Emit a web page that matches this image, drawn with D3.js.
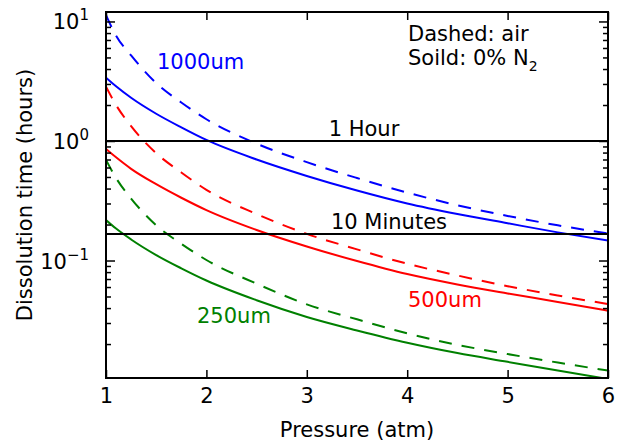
<!DOCTYPE html>
<html><head><meta charset="utf-8">
<script src="https://cdn.jsdelivr.net/npm/d3@7"></script>
<style>body{margin:0;background:#fff}svg{display:block;font-family:"DejaVu Sans",sans-serif}</style>
</head><body><svg id="c" width="624" height="443"></svg>
<script>
const pressure = [1, 1.1, 1.25, 1.5, 1.75, 2, 2.5, 3, 3.5, 4, 4.5, 5, 5.5, 6];
const solid1000 = [3.39, 2.87, 2.30, 1.69, 1.30, 1.02, 0.70, 0.51, 0.385, 0.30, 0.245, 0.205, 0.172, 0.147];
const dashed1000 = [11.3, 7.6, 5.2, 3.05, 2.10, 1.52, 0.95, 0.665, 0.49, 0.37, 0.29, 0.236, 0.197, 0.168];
const solid500 = [0.857, 0.73, 0.585, 0.435, 0.335, 0.264, 0.18, 0.131, 0.099, 0.077, 0.063, 0.053, 0.045, 0.038];
const dashed500 = [2.85, 2.0, 1.33, 0.79, 0.545, 0.39, 0.245, 0.167, 0.124, 0.094, 0.075, 0.061, 0.051, 0.0432];
const solid250 = [0.218, 0.185, 0.15, 0.111, 0.086, 0.068, 0.0465, 0.0337, 0.026, 0.0205, 0.0168, 0.0142, 0.0120, 0.0102];
const dashed250 = [0.694, 0.49, 0.33, 0.197, 0.138, 0.101, 0.064, 0.043, 0.0322, 0.0246, 0.0197, 0.0165, 0.0140, 0.0120];
const xTicks = [1, 2, 3, 4, 5, 6];
const yMajor = [0.1, 1, 10];
const yMajorExp = ["-1", "0", "1"];
const refValues = [1, 1/6];
const refLabels = ["1 Hour", "10 Minutes"];

const svg = d3.select("#c");
const L = 106, R = 608, T = 12, B = 378;
const x = d3.scaleLinear().domain([1, 6]).range([L, R]);
const y = d3.scaleLog().domain([0.0104, 12]).range([B, T]);

svg.append("clipPath").attr("id", "pc").append("rect")
  .attr("x", L).attr("y", T).attr("width", R - L).attr("height", B - T);

const series = [
  {v: solid1000, c: "#0000ff", d: null},
  {v: dashed1000, c: "#0000ff", d: "13,10"},
  {v: solid500, c: "#ff0000", d: null},
  {v: dashed500, c: "#ff0000", d: "13,10"},
  {v: solid250, c: "#008000", d: null},
  {v: dashed250, c: "#008000", d: "13,10"}
];
const line = d3.line().x(d => x(d[0])).y(d => y(d[1])).curve(d3.curveMonotoneX);
const g = svg.append("g").attr("clip-path", "url(#pc)");
series.forEach(s => {
  g.append("path").datum(pressure.map((p, i) => [p, s.v[i]]))
    .attr("d", line).attr("fill", "none").attr("stroke", s.c)
    .attr("stroke-width", 2).attr("stroke-dasharray", s.d);
});

// reference lines
refValues.forEach((v, i) => {
  svg.append("line").attr("x1", L).attr("x2", R).attr("y1", y(v)).attr("y2", y(v))
    .attr("stroke", "#000").attr("stroke-width", 2);
});
svg.append("text").attr("x", 364).attr("y", y(refValues[0]) - 5).attr("text-anchor", "middle")
  .attr("font-size", 21).text(refLabels[0]);
svg.append("text").attr("x", 389).attr("y", y(refValues[1]) - 5).attr("text-anchor", "middle")
  .attr("font-size", 21).text(refLabels[1]);

// axes
const xb = d3.axisBottom(x).tickValues(xTicks).tickSize(-8).tickPadding(10).tickFormat(d3.format("d"));
const xt = d3.axisTop(x).tickValues(xTicks).tickSize(-8).tickFormat("");
const minors = [];
[0.01, 0.1, 1, 10].forEach(dec => { for (let k = 2; k <= 9; k++) { const v = dec * k; if (v >= 0.0104 && v <= 12) minors.push(v); } });
const yl = d3.axisLeft(y).tickValues(yMajor).tickSize(-9).tickFormat("");
const ylm = d3.axisLeft(y).tickValues(minors).tickSize(-5).tickFormat("");
const yr = d3.axisRight(y).tickValues(yMajor).tickSize(-9).tickFormat("");
const yrm = d3.axisRight(y).tickValues(minors).tickSize(-5).tickFormat("");

function style(sel) {
  sel.select(".domain").remove();
  sel.selectAll(".tick line").attr("stroke", "#000").attr("stroke-width", 1.5);
  sel.selectAll("text").attr("font-size", 21).attr("fill", "#000").attr("font-family", "DejaVu Sans");
}
svg.append("g").attr("transform", `translate(0,${B})`).call(xb).call(style)
  .selectAll(".tick text").attr("dy", "0.71em");
svg.append("g").attr("transform", `translate(0,${T})`).call(xt).call(style);
svg.append("g").attr("transform", `translate(${L},0)`).call(yl).call(style);
svg.append("g").attr("transform", `translate(${L},0)`).call(ylm).call(style);
svg.append("g").attr("transform", `translate(${R},0)`).call(yr).call(style);
svg.append("g").attr("transform", `translate(${R},0)`).call(yrm).call(style);

// y tick labels with superscripts
yMajor.forEach((v, i) => {
  const t = svg.append("text").attr("x", 89).attr("y", y(v) + 8).attr("text-anchor", "end")
    .attr("font-size", 21);
  t.append("tspan").text("10");
  t.append("tspan").attr("font-size", 15).attr("dy", -9).text(yMajorExp[i].replace("-", "\u2212"));
});

// frame
svg.append("rect").attr("x", L).attr("y", T).attr("width", R - L).attr("height", B - T)
  .attr("fill", "none").attr("stroke", "#000").attr("stroke-width", 2);

// axis labels
svg.append("text").attr("x", (L + R) / 2).attr("y", 437).attr("text-anchor", "middle")
  .attr("font-size", 21).text("Pressure (atm)");
svg.append("text").attr("transform", `translate(32,${(T + B) / 2}) rotate(-90)`)
  .attr("text-anchor", "middle").attr("font-size", 21).text("Dissolution time (hours)");

// series labels
svg.append("text").attr("x", 157).attr("y", 69).attr("fill", "#0000ff").attr("font-size", 21).text("1000um");
svg.append("text").attr("x", 408).attr("y", 307).attr("fill", "#ff0000").attr("font-size", 21).text("500um");
svg.append("text").attr("x", 197).attr("y", 323).attr("fill", "#008000").attr("font-size", 21).text("250um");

// legend note
svg.append("text").attr("x", 408).attr("y", 41).attr("font-size", 21).text("Dashed: air");
const n2 = svg.append("text").attr("x", 408).attr("y", 65).attr("font-size", 21);
n2.append("tspan").text("Soild: 0% N");
n2.append("tspan").attr("font-size", 14).attr("dy", 6).text("2");
</script></body></html>
